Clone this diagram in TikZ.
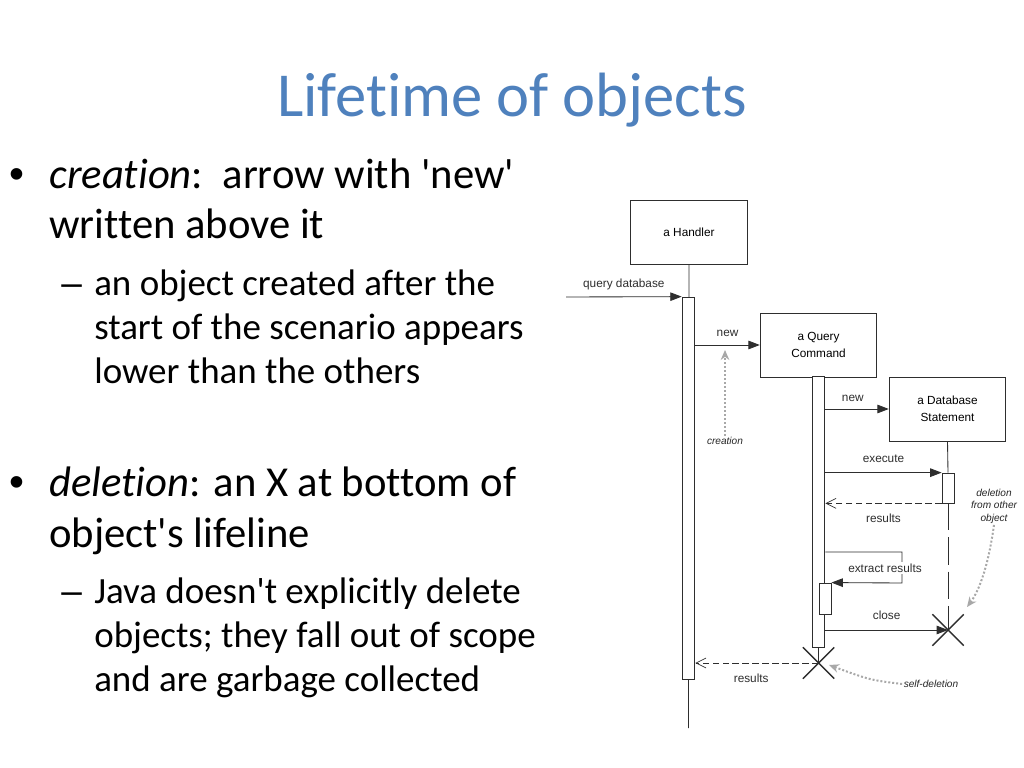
\documentclass[tikz,border=0pt]{standalone}
\usepackage{fontspec}
\setmainfont{Carlito}[Ligatures={TeXOff,NoCommon}]
\newfontfamily\diagfont{Liberation Sans}
\usetikzlibrary{arrows.meta,shapes.misc}
\definecolor{TitleBlue}{HTML}{4F81BD}
\definecolor{LineInk}{HTML}{2E2E2E}
\definecolor{NoteGray}{HTML}{A8A8A8}

\begin{document}
\begin{tikzpicture}[x=0.703125pt,y=-0.703125pt,
  title/.style={text=TitleBlue,font=\fontsize{44}{52}\selectfont},
  item/.style={anchor=base west,inner sep=0pt,font=\fontsize{30}{36}\selectfont},
  subitem/.style={anchor=base west,inner sep=0pt,font=\fontsize{26}{31}\selectfont},
  marker/.style={anchor=base west,inner sep=0pt,font=\diagfont\fontsize{30}{36}\selectfont},
  submarker/.style={anchor=base west,inner sep=0pt,font=\diagfont\fontsize{26}{31}\selectfont},
  lifebox/.style={draw=LineInk,fill=white,line width=0.6pt,minimum width=82pt,minimum height=45pt,align=center,inner sep=0pt,font=\diagfont\fontsize{8.3}{12}\selectfont},
  actbar/.style={draw=LineInk,fill=white,line width=0.6pt,minimum width=9pt,inner sep=0pt},
  endmark/.style={cross out,draw=LineInk,line width=1pt,minimum size=21pt,inner sep=0pt},
  life/.style={draw=LineInk,line width=0.6pt},
  msg/.style={draw=LineInk,line width=0.6pt,-{Triangle[length=8pt,width=6pt]}},
  reply/.style={draw=LineInk,line width=0.6pt,dash pattern=on 4.5pt off 2.5pt,-{Straight Barb[length=7pt,width=7pt,line width=0.5pt]}},
  lbl/.style={font=\diagfont\fontsize{8.3}{10}\selectfont,text=LineInk,inner sep=1.5pt},
  note/.style={font=\diagfont\itshape\fontsize{7.1}{8.8}\selectfont,text=black!85,align=center,inner sep=1pt},
  notearrow/.style={draw=NoteGray,line width=1.4pt,dash pattern=on 1.4pt off 1.4pt,-{Stealth[length=7pt,width=6pt]}}]
\fill[white] (0,0) rectangle (1024,768);
\useasboundingbox (0,0) rectangle (1024,768);
% title
\node[title] (ttl) at (512,100) {Lifetime of objects};
% bullet text
\node[marker] at (9,189) {•};
\node[item] at (49,189) {\textit{creation}:\ \ arrow with 'new'};
\node[item] at (49,239) {written above it};
\node[submarker] at (61,295) {–};
\node[subitem] at (94,295) {an object created after the};
\node[subitem] at (94,339) {start of the scenario appears};
\node[subitem] at (94,383) {lower than the others};
\node[marker] at (9,496) {•};
\node[item] at (49,496) {\textit{deletion}: an X at bottom of};
\node[item] at (49,547) {object's lifeline};
\node[submarker] at (61,603) {–};
\node[subitem] at (94,603) {Java doesn't explicitly delete};
\node[subitem] at (94,647) {objects; they fall out of scope};
\node[subitem] at (94,691) {and are garbage collected};
% objects and lifelines
\node[lifebox] (hdl) at (689,232.5) {a Handler};
\coordinate (hend) at (688.5,728);
\draw[life] (hdl.south) -- (hend);
\node[actbar,minimum height=268.5pt] (hbar) at (688.5,488) {};
\node[lifebox] (qry) at (818.5,345) {a Query\\Command};
\node[actbar,minimum height=190.5pt] (qbar) at (818.5,511.5) {};
\node[lifebox] (dbs) at (947.5,409) {a Database\\Statement};
\node[actbar,minimum width=8.4pt,minimum height=21pt] (dbar) at (948,488) {};
\node[actbar,minimum width=8.4pt,minimum height=21.8pt] (xbar) at (825,598.5) {};
\node[endmark] (xdb) at (948,630) {};
\node[endmark] (xqc) at (818.5,663) {};
\draw[life] (dbs.south) -- (dbar.north);
\draw[life,dash pattern=on 19pt off 5pt] (dbar.south) -- (xdb.center);
\draw[life] (qbar.south) -- (xqc.center);
% messages
\coordinate (qin) at (566,297);
\draw[msg] (qin) -- (hbar.north west) node[lbl,midway,above=3pt] {query database};
\draw[msg] (hbar.east |- qry.west) -- (qry.west) node[lbl,midway,above=4pt] {new};
\draw[msg] (qbar.east |- dbs.west) -- (dbs.west) node[lbl,midway,above=3.5pt,xshift=-3pt] {new};
\draw[msg] (qbar.east |- dbar.north) -- (dbar.north west) node[lbl,midway,above=5pt] {execute};
\draw[reply] (dbar.south west) -- (qbar.east |- dbar.south) node[lbl,midway,below=5.5pt] {results};
\coordinate (xa) at (902,552);
\coordinate (xb) at (902,583);
\draw[msg] (qbar.east |- xa) -- (xa) -- (xb) -- (xbar.north east);
\node[lbl,fill=white,inner sep=1pt] (xlbl) at (885,568) {extract results};
\draw[msg] (qbar.east |- xdb) -- (xdb.center) node[lbl,midway,above=5.5pt] {close};
\draw[reply] (xqc.center) -- (hbar.east |- xqc) node[lbl,midway,below=6pt,xshift=-4pt] {results};
% annotations
\node[note] (crt) at (725,441) {creation};
\coordinate (crtend) at (725,350);
\draw[notearrow] (crt.north) -- (crtend);
\node[note] (dlo) at (994,506) {deletion\\from other\\object};
\coordinate (dloend) at (967,607);
\draw[notearrow] (dlo.south) .. controls (987,575) and (976,595) .. (dloend);
\node[note] (sdl) at (931,684) {self-deletion};
\coordinate (sdlend) at (829,665);
\draw[notearrow] (sdl.west) .. controls (870,680) .. (sdlend);
\end{tikzpicture}
\end{document}
